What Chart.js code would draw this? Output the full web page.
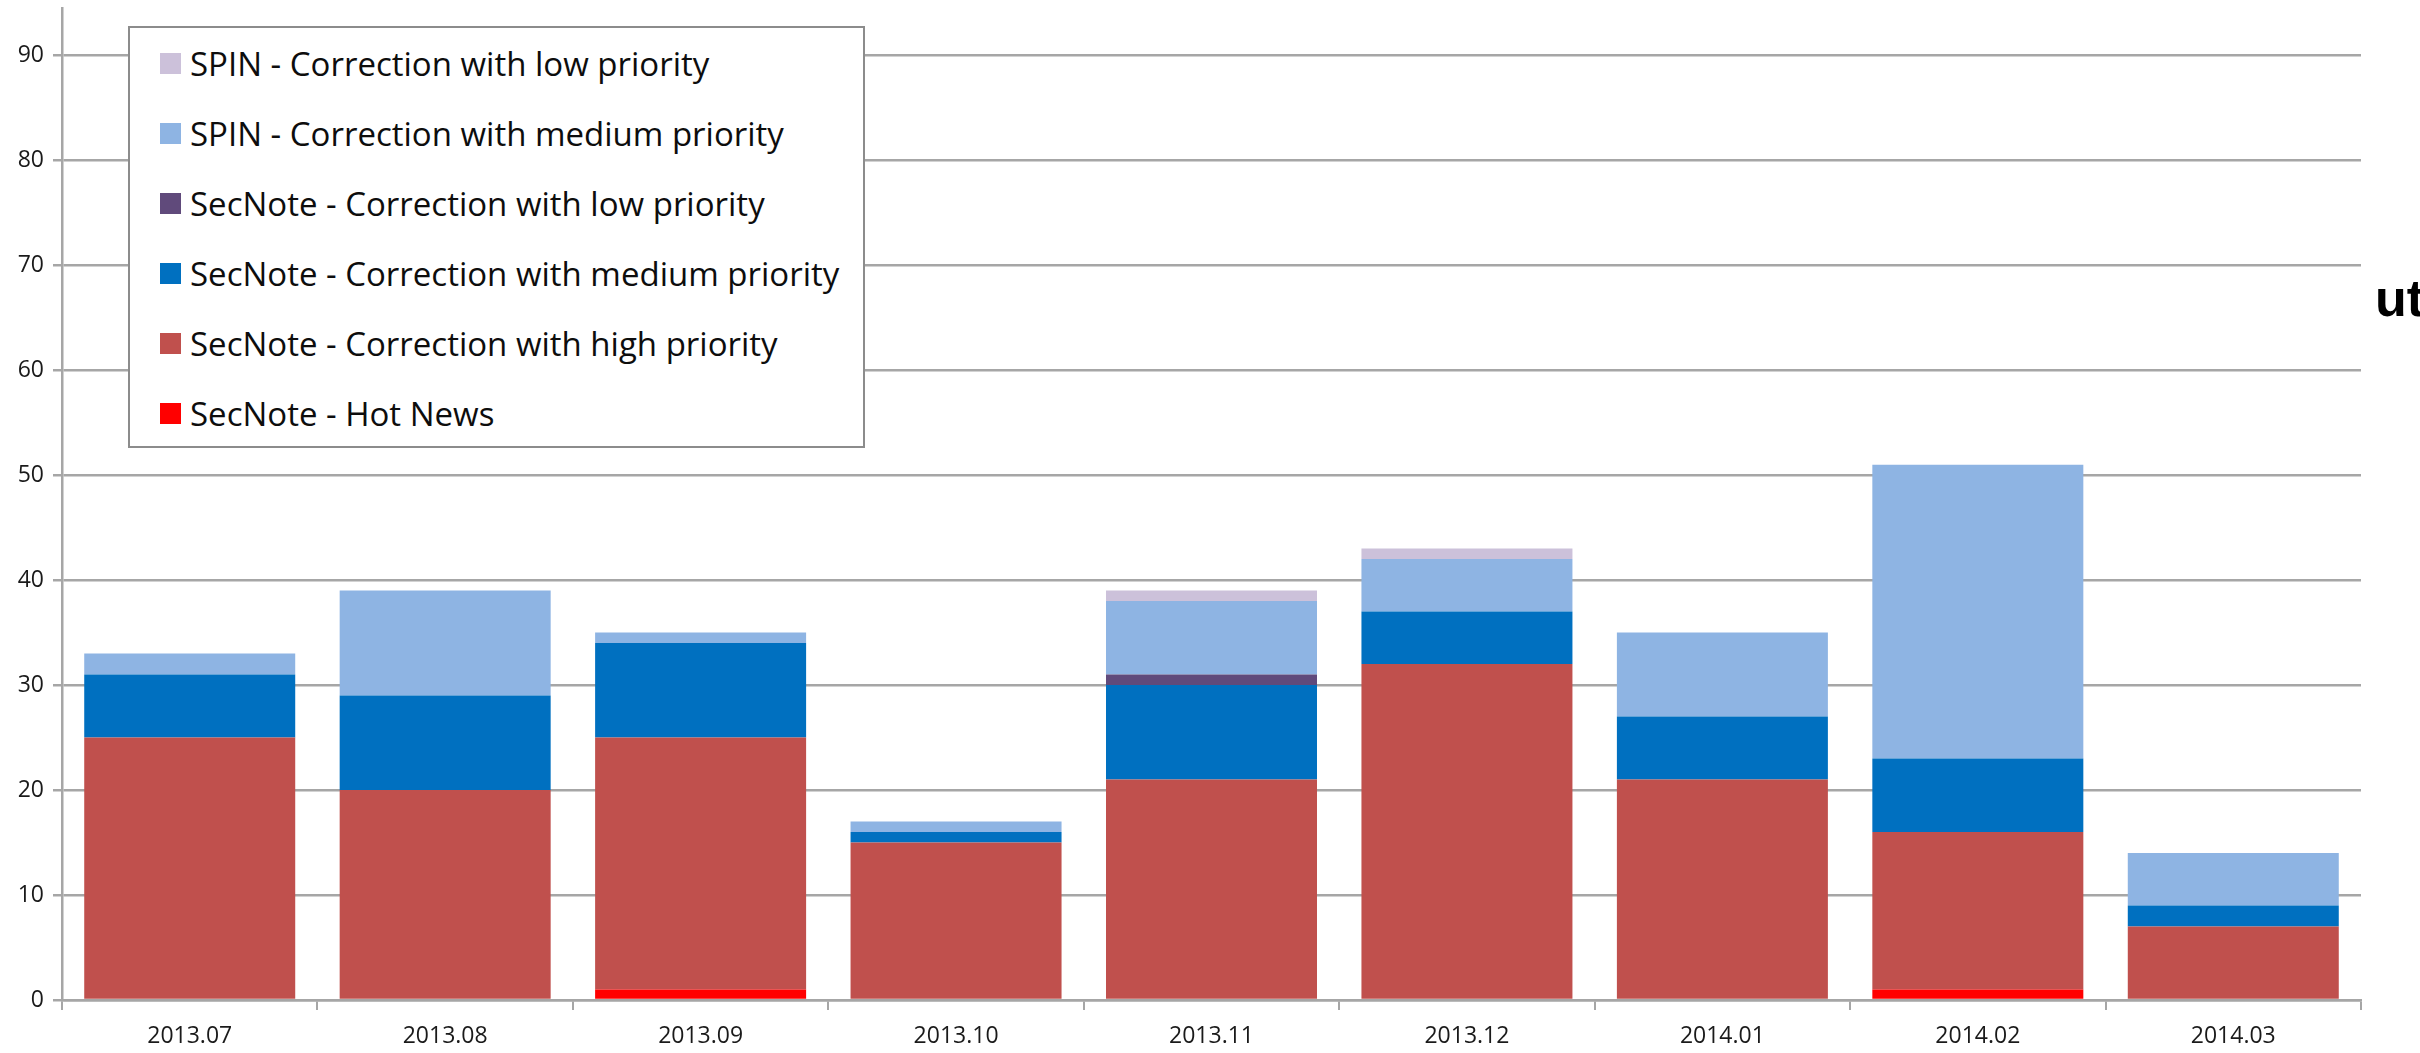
<!DOCTYPE html>
<html lang="en">
<head>
<meta charset="UTF-8">
<title>SecNote / SPIN corrections per month</title>
<script src="https://cdn.jsdelivr.net/npm/chart.js"></script>
<style>
  html, body { margin: 0; padding: 0; background: #fff; overflow: hidden; }
  #wrap { position: relative; width: 2420px; height: 1053px; }
  #legend {
    position: absolute; left: 128px; top: 26px; width: 733px; height: 418px;
    border: 2px solid #8c8c8c; background: #fff;
    font-family: "Open Sans", sans-serif; font-size: 33px; color: #0d0d0d;
  }
  #legend .row { position: relative; height: 70px; display: flex; align-items: center; }
  #legend .sw { position: absolute; left: 30px; width: 21px; height: 21px; }
  #legend .txt { position: absolute; left: 60px; white-space: nowrap; }
  #cut {
    position: absolute; left: 2375px; top: 268px;
    font-family: "Liberation Sans", Arial, sans-serif; font-weight: bold; font-size: 52px; color: #000;
  }
</style>
</head>
<body>
<div id="wrap">
  <canvas id="chart" width="2420" height="1053"></canvas>
  <div id="legend"></div>
  <div id="cut">ut</div>
</div>
<script>
// months on the x axis
const months = ['2013.07', '2013.08', '2013.09', '2013.10', '2013.11', '2013.12', '2014.01', '2014.02', '2014.03'];

// counts per month, bottom of the stack first
const hotNews    = [0, 0, 1, 0, 0, 0, 0, 1, 0];
const secHigh    = [25, 20, 24, 15, 21, 32, 21, 15, 7];
const secMedium  = [6, 9, 9, 1, 9, 5, 6, 7, 2];
const secLow     = [0, 0, 0, 0, 1, 0, 0, 0, 0];
const spinMedium = [2, 10, 1, 1, 7, 5, 8, 28, 5];
const spinLow    = [0, 0, 0, 0, 1, 1, 0, 0, 0];

const yTicks = [0, 10, 20, 30, 40, 50, 60, 70, 80, 90];

const series = [
  { label: 'SecNote - Hot News', data: hotNews, color: '#FF0000' },
  { label: 'SecNote - Correction with high priority', data: secHigh, color: '#C0504D' },
  { label: 'SecNote - Correction with medium priority', data: secMedium, color: '#0070C0' },
  { label: 'SecNote - Correction with low priority', data: secLow, color: '#604A7B' },
  { label: 'SPIN - Correction with medium priority', data: spinMedium, color: '#8EB4E3' },
  { label: 'SPIN - Correction with low priority', data: spinLow, color: '#CCC1DA' }
];

const gridColor = '#a6a6a6';
const tickFont = { family: 'Open Sans', size: 23 };

const chart = new Chart(document.getElementById('chart'), {
  type: 'bar',
  data: {
    labels: months,
    datasets: series.map(s => ({
      label: s.label,
      data: s.data,
      backgroundColor: s.color,
      borderWidth: 0,
      categoryPercentage: 1,
      barPercentage: 0.826
    }))
  },
  options: {
    responsive: false,
    animation: false,
    devicePixelRatio: 1,
    layout: { padding: { top: 8, right: 59, left: 0, bottom: 0 } },
    plugins: {
      legend: { display: false },
      tooltip: { enabled: false }
    },
    scales: {
      x: {
        stacked: true,
        grid: { offset: true, drawOnChartArea: false, drawTicks: true, tickLength: 10, color: gridColor, lineWidth: 2 },
        border: { color: gridColor, width: 2.5 },
        ticks: { color: '#1a1a1a', font: tickFont, padding: 13, maxRotation: 0 },
        afterFit: s => { s.height = 53; s.paddingLeft = 0; s.paddingRight = 0; }
      },
      y: {
        stacked: true,
        min: 0,
        max: 94.5,
        grid: { color: gridColor, lineWidth: 2.5, tickLength: 9 },
        border: { color: gridColor, width: 2.5 },
        ticks: {
          stepSize: 10,
          includeBounds: false,
          color: '#1a1a1a',
          font: tickFont,
          padding: 9,
          callback: v => yTicks.includes(v) ? v : ''
        },
        afterFit: s => { s.width = 62; s.paddingTop = 0; s.paddingBottom = 0; }
      }
    }
  }
});

// legend box drawn over the plot, top entry = top of the stack
const legendEl = document.getElementById('legend');
chart.data.datasets.slice().reverse().forEach(ds => {
  const row = document.createElement('div');
  row.className = 'row';
  const sw = document.createElement('span');
  sw.className = 'sw';
  sw.style.background = ds.backgroundColor;
  const txt = document.createElement('span');
  txt.className = 'txt';
  txt.textContent = ds.label;
  row.appendChild(sw);
  row.appendChild(txt);
  legendEl.appendChild(row);
});
</script>
</body>
</html>
